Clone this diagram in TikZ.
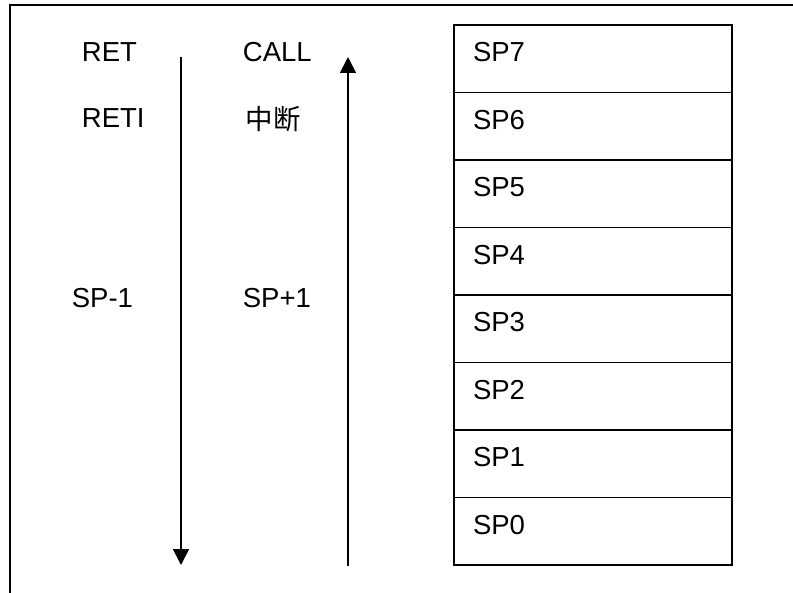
\documentclass[tikz,border=0pt]{standalone}
\usepackage{fontspec}
\setmainfont{Liberation Sans}
\newfontfamily\cjk{Noto Sans CJK SC}
\usepackage{tikz}
\usetikzlibrary{positioning, arrows.meta}
\tikzset{
    x=1pt, y=-1pt, % one unit is one pixel of the layout, y grows downwards
    >={Triangle[width=16pt, length=16pt]}, % solid triangular heads
    every node/.style={font=\fontsize{27.5}{33}\selectfont, inner sep=0pt}, % big sans text
}

\begin{document}
\begin{tikzpicture}[
                                line width=1.8pt,
                                stackRow/.style={draw, outer sep=0pt, text width=240pt, inner xsep=19pt, inner ysep=0pt, text height=37pt, text depth=30.5pt, align=left},
                                opText/.style={anchor=base west},
                            ]
                            \useasboundingbox (0,0) rectangle (793,593);
                            \draw (10,593) -- (10,5) -- (793,5);

                            \node[stackRow, anchor=north west] (sp7) at (454,25) {SP7};
                            \node[stackRow, below=0pt of sp7] (sp6) {SP6};
                            \node[stackRow, below=0pt of sp6] (sp5) {SP5};
                            \node[stackRow, below=0pt of sp5] (sp4) {SP4};
                            \node[stackRow, below=0pt of sp4] (sp3) {SP3};
                            \node[stackRow, below=0pt of sp3] (sp2) {SP2};
                            \node[stackRow, below=0pt of sp2] (sp1) {SP1};
                            \node[stackRow, below=0pt of sp1] (sp0) {SP0};

                            \node[opText] (ret) at (81,62) {RET};
                            \node[opText] (reti) at (81,128) {RETI};
                            \node[opText] (spdec) at (71,308) {SP-1};
                            \node[opText] (call) at (242,62) {CALL};
                            \node[opText] (irq) at (245,130) {\cjk 中断};
                            \node[opText] (spinc) at (242,308) {SP+1};

                            \coordinate (popTop) at (181,57);
                            \coordinate (popBot) at (181,565);
                            \coordinate (pushBot) at (348,566);
                            \coordinate (pushTop) at (348,57);
                            \draw[->] (popTop) -- (popBot);
                            \draw[->] (pushBot) -- (pushTop);
                        \end{tikzpicture}
\end{document}
